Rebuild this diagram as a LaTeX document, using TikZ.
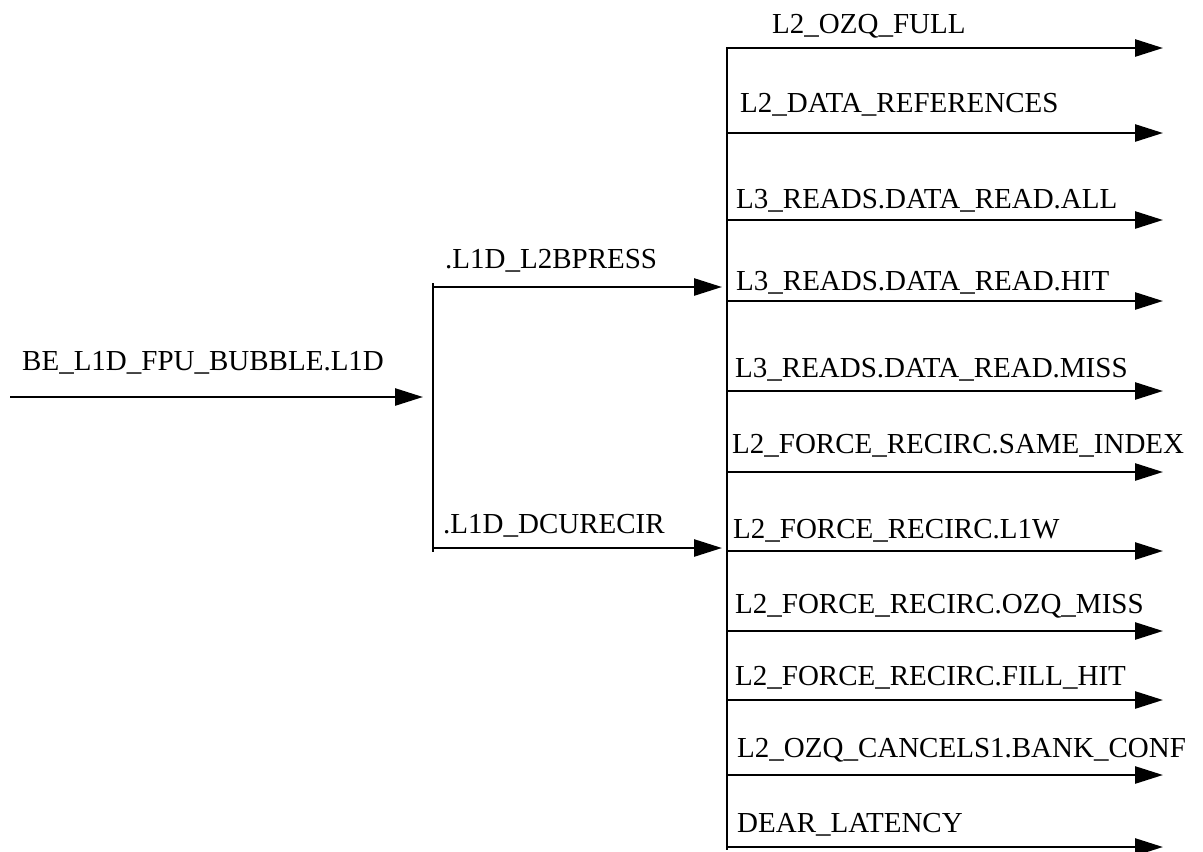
\documentclass[tikz,border=0pt]{standalone}
\usepackage{fontspec}
\setmainfont{Liberation Serif}
\usetikzlibrary{arrows.meta}
\begin{document}
\begin{tikzpicture}[x=1pt,y=-1pt,
  lbl/.style={anchor=base west,inner sep=0pt,font=\fontsize{29}{34}\selectfont},
  wire/.style={line width=2.6pt},
  arr/.style={wire,-{Triangle[length=28pt,width=17pt]}}]
\useasboundingbox[fill=white] (0,0) rectangle (1203,852);
% left input
\coordinate (in) at (10,397);
\coordinate (inT) at (423,397);
\node[lbl] (lin) at (22,370) {BE\_L1D\_FPU\_BUBBLE.L1D};
\draw[arr] (in) -- (inT);
% middle bus
\coordinate (mTop) at (433,283);
\coordinate (mBot) at (433,552);
\draw[wire] (mTop) -- (mBot);
\coordinate (m1) at (433,287);
\coordinate (m1T) at (722,287);
\coordinate (m2) at (433,548);
\coordinate (m2T) at (722,548);
\draw[arr] (m1) -- (m1T);
\draw[arr] (m2) -- (m2T);
\node[lbl] (lm1) at (445,268) {.L1D\_L2BPRESS};
\node[lbl] (lm2) at (443,533) {.L1D\_DCURECIR};
% right bus
\coordinate (rTop) at (727,47);
\coordinate (rBot) at (727,850);
\draw[wire] (rTop) -- (rBot);
\foreach \y/\b/\lx/\t [count=\i] in {
  48/33/772/{L2\_OZQ\_FULL},
  133/112/740/{L2\_DATA\_REFERENCES},
  220/208/736/{L3\_READS.DATA\_READ.ALL},
  301/290/736/{L3\_READS.DATA\_READ.HIT},
  391/377/735/{L3\_READS.DATA\_READ.MISS},
  472/453/732/{L2\_FORCE\_RECIRC.SAME\_INDEX},
  551/538/733/{L2\_FORCE\_RECIRC.L1W},
  631/613/735/{L2\_FORCE\_RECIRC.OZQ\_MISS},
  700/685/735/{L2\_FORCE\_RECIRC.FILL\_HIT},
  775/757/737/{L2\_OZQ\_CANCELS1.BANK\_CONF},
  847/832/737/{DEAR\_LATENCY}}{
  \coordinate (r\i) at (727,\y);
  \coordinate (r\i T) at (1163,\y);
  \draw[arr] (r\i) -- (r\i T);
  \node[lbl] (lr\i) at (\lx,\b) {\t};
}
\end{tikzpicture}
\end{document}
